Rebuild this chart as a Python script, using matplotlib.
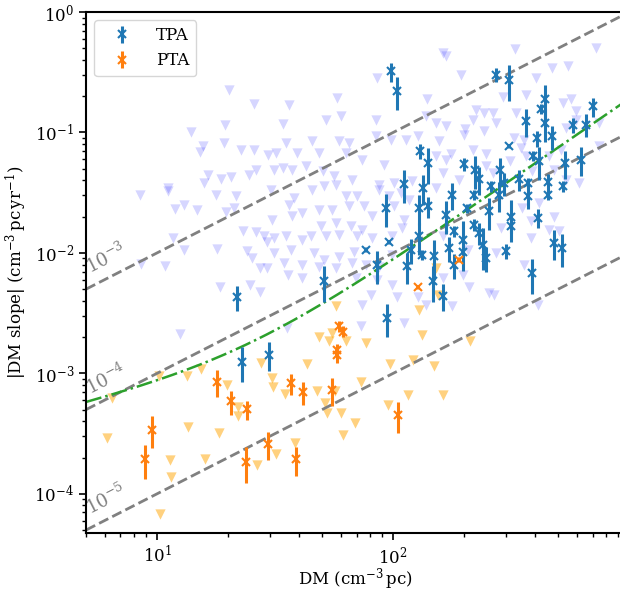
import numpy as np
import matplotlib
matplotlib.use("Agg")
import matplotlib.pyplot as plt

plt.rcParams['font.family'] = 'serif'
plt.rcParams['font.serif'] = ['DejaVu Serif']
plt.rcParams['mathtext.fontset'] = 'dejavuserif'
plt.rcParams['font.size'] = 12

# measured DM slopes (TPA)
tpa_dm = [98.3, 104, 130, 140, 111, 134, 272, 310, 441, 423, 699, 367, 575, 655, 441,
          308, 405, 470, 392, 413, 536, 624, 200, 223, 231, 284, 295, 342, 371, 451,
          522, 259, 178, 220, 281, 371, 451, 167, 206, 255, 315, 409, 181, 197, 220,
          231, 239, 247, 300, 315, 173, 181, 197, 481, 519, 389, 162, 93.1, 96.2, 76.6,
          129, 119, 133, 115, 85.8, 50.7, 149, 147, 140, 94.6, 29.8, 21.9, 23.0, 128.8]
tpa_slope = [0.321, 0.222, 0.0696, 0.0556, 0.0375, 0.0346, 0.302, 0.274, 0.188, 0.157, 0.165,
             0.124, 0.116, 0.116, 0.120, 0.0766, 0.0896, 0.0926, 0.0636, 0.0576, 0.0556, 0.0596,
             0.0547, 0.0487, 0.0408, 0.0487, 0.0378, 0.0408, 0.0378, 0.0388, 0.0359, 0.0359,
             0.0304, 0.0304, 0.0304, 0.0295, 0.0304, 0.0207, 0.0236, 0.0221, 0.0200, 0.0195,
             0.0151, 0.0128, 0.0171, 0.0146, 0.0117, 0.00907, 0.0104, 0.0166, 0.0110, 0.00792,
             0.0102, 0.0121, 0.0110, 0.00677, 0.00439, 0.0236, 0.0123, 0.0106, 0.0137, 0.0106,
             0.00965, 0.00773, 0.00792, 0.00582, 0.00937, 0.00582, 0.0243, 0.00287, 0.00143,
             0.00429, 0.00125, 0.0236]
tpa_err = [0.058, 0.068, 0.0099, 0.018, 0.0113, 0.0098, 0.041, 0.090, 0.062, 0.016, 0.030,
           0.032, 0.017, 0.025, 0.036, 0.002, 0.014, 0.021, 0.006, 0.0175, 0.0145, 0.016,
           0.007, 0.015, 0.0105, 0.013, 0.008, 0.008, 0.004, 0.0065, 0.004, 0.004, 0.0078,
           0.003, 0.0085, 0.0064, 0.003, 0.0064, 0.002, 0.0067, 0.0076, 0.0035, 0.0015,
           0.0057, 0.002, 0.003, 0.0045, 0.0021, 0.0015, 0.002, 0.0026, 0.0019, 0.0009,
           0.0034, 0.0033, 0.0022, 0.0011, 0.0071, 0.0005, 0.0005, 0.0041, 0.0025, 0.001,
           0.0022, 0.0024, 0.0019, 0.0034, 0.0019, 0.0048, 0.00086, 0.00038, 0.00099, 0.0004,
           0.0064]

# measured DM slopes (PTA)
pta_dm = [59.0, 61.4, 58.1, 57.7, 126.8, 190, 17.9, 20.5, 24.0, 9.55, 8.89, 23.7,
          37.1, 41.7, 55.3, 29.5, 38.9, 105.3]
pta_slope = [0.00245, 0.00222, 0.00157, 0.00143, 0.00524, 0.00879, 0.000852, 0.000585,
             0.000503, 0.000339, 0.000194, 0.000185, 0.000824, 0.000695, 0.000722, 0.000257,
             0.000194, 0.000448]
pta_err = [0.00026, 0.00023, 0.00017, 0.00022, 0.0002, 0.0004, 0.00021, 0.00013, 0.00009,
           0.0001, 0.000062, 0.000062, 0.00016, 0.00015, 0.00019, 0.000066, 0.000053, 0.00013]

# upper limits (TPA)
tpa_lim_dm = [20.2, 25.8, 13.9, 19.4, 15.6, 15.2, 19.2, 22.6, 25.8, 16.4, 15.8, 18.6, 20.5,
              24.5, 26.2, 11.1,
              85.8, 57.7, 36.3, 139, 161.8, 29.5,
              167.2, 193.6, 329, 723, 473, 548, 402.5, 290.5, 367, 522, 566, 224, 243, 263.6,
              331, 594, 216.8, 272, 594, 746, 201.8, 200, 243, 325.6, 359, 539,
              746, 175.6, 216.8, 247, 347.5, 365, 458, 513, 190.4, 247, 263.6, 312,
              389, 481, 539, 614,
              8.47, 11.1, 11.9, 13.0, 14.8, 17.7, 21.6, 19.5, 21.1, 23.2, 26.2, 28.4, 11.7,
              13.0, 17.9, 24.0, 25.3, 27.3, 8.58, 10.8, 18.5, 24.8, 27.3, 12.5,
              29.3, 29.3, 80.4, 74.1, 104.2, 126.8, 137.6, 73.0, 35.6, 111.3,
              383, 481, 458, 505, 286, 359, 383, 210, 255, 268, 178.3, 408.7, 161.8, 196.7,
              206.5, 272, 353, 415.6, 161.8,
              34.2, 51.9, 60.0, 84.5, 137.6, 151.7, 167.2, 45.5, 35.1, 59.0, 65.1, 84.5, 97.8,
              113.2, 126.8, 156.6, 31.8, 39.3, 48.6, 63.0, 74.1, 91.6, 151.7, 167.2, 31.3,
              34.0, 37.4, 42.7, 50.2, 56.2, 67.2, 87.2, 101, 120.7, 161.8, 151.7, 30.3, 38.1,
              45.5, 51.0, 57.2, 63.0, 70.6, 87.2, 96.2, 107.8, 116.9, 36.3, 41.3, 48.6, 55.3,
              65.1, 75.3, 81.7, 101, 111.3, 30.8, 37.4, 49.4, 57.2, 66.2, 74.1, 109.4, 31.3,
              35.1, 41.3, 44.8, 51.9, 59.0, 70.6, 81.7, 99.3, 31.3, 36.9, 46.3, 51.0, 59.0,
              68.3, 99.3, 34.5, 41.3, 48.6, 57.2, 67.2, 76.6, 87.2, 35.7, 41.3, 69.5, 85.8,
              99.3]
tpa_lim_slope = [0.226, 0.173, 0.100, 0.116, 0.0766, 0.0683, 0.0816, 0.0719, 0.0719, 0.0445,
                 0.0380, 0.0411, 0.0427, 0.0445, 0.0491, 0.0346,
                 0.283, 0.194, 0.170, 0.190, 0.458, 0.0654,
                 0.429, 0.302, 0.494, 0.504, 0.343, 0.354, 0.283, 0.197, 0.206, 0.176, 0.190,
                 0.155, 0.145, 0.145, 0.145, 0.150, 0.128, 0.120, 0.128, 0.120, 0.106,
                 0.0958, 0.102, 0.0901, 0.0872, 0.109, 0.0766, 0.0666, 0.0719, 0.0666,
                 0.0743, 0.0633, 0.0633, 0.0719, 0.0405, 0.0523, 0.0460, 0.0575,
                 0.0475, 0.0491, 0.0405, 0.0380,
                 0.0304, 0.0324, 0.0232, 0.0251, 0.0225, 0.0304, 0.0295, 0.0217, 0.0236,
                 0.0151, 0.0148, 0.0137, 0.0133, 0.0106, 0.0108, 0.0103, 0.00906, 0.00749,
                 0.00813, 0.00783, 0.00519, 0.00543, 0.00478, 0.00213,
                 0.0124, 0.00749, 0.00448, 0.00370, 0.00434, 0.00434, 0.00370, 0.00245,
                 0.00237, 0.00261,
                 0.0183, 0.0200, 0.0156, 0.0151, 0.0161, 0.00797, 0.0133, 0.00526, 0.00463,
                 0.00448, 0.00359, 0.00370, 0.00620, 0.00660, 0.0106, 0.00995, 0.0236, 0.0259,
                 0.0137,
                 0.1183, 0.1278, 0.1361, 0.1278, 0.1361, 0.1199, 0.1124, 0.0843, 0.0818,
                 0.0843, 0.0818, 0.0928, 0.0871, 0.0871, 0.0928, 0.0843, 0.0676, 0.0676,
                 0.0676, 0.0676, 0.0594, 0.054, 0.0633, 0.0594, 0.0491, 0.0507, 0.0491,
                 0.0523, 0.0475, 0.0432, 0.0405, 0.0368, 0.038, 0.0392, 0.0461, 0.0346,
                 0.0335, 0.0285, 0.0335, 0.0356, 0.0368, 0.0294, 0.0294, 0.0335, 0.0294,
                 0.0314, 0.0276, 0.0251, 0.0214, 0.0228, 0.0228, 0.0243, 0.0243, 0.0201,
                 0.0243, 0.01884, 0.01884, 0.0201, 0.01658, 0.0177, 0.01658, 0.01556, 0.01607,
                 0.01327, 0.01369, 0.01285, 0.01369, 0.01369, 0.01414, 0.01369, 0.01327,
                 0.01369, 0.00996, 0.0106, 0.00996, 0.00876, 0.00933, 0.01027, 0.00964,
                 0.00823, 0.00796, 0.00771, 0.00748, 0.00823, 0.00796, 0.00771, 0.00657,
                 0.00617, 0.00617, 0.00597, 0.00543]

# upper limits (PTA)
pta_lim_dm = [10.2, 13.4, 6.47, 19.7, 22.0, 22.0, 6.12, 13.5, 18.3, 11.35, 15.9, 11.5, 26.5,
              10.3, 15.3, 27.5, 151.7, 155, 57.1, 128.8, 48.6, 53.6, 55.3, 63.1, 76.6, 133.1,
              43.1, 97.1, 120.8, 149.2, 30.8, 31.1, 34.8, 47.8, 51.4, 52.4, 60.4, 56.6, 68.8,
              61.4, 38.3, 32.0, 95.2, 115.8, 161.8, 73.0, 211]
pta_lim_slope = [0.000953, 0.000953, 0.000622, 0.000801, 0.000525, 0.000443, 0.000289,
                 0.000360, 0.000322, 0.000191, 0.000193, 0.000139, 0.000174, 0.0000678,
                 0.00109, 0.00121, 0.00749, 0.00448, 0.00359, 0.00333, 0.00201, 0.00184,
                 0.00216, 0.00184, 0.00178, 0.00208, 0.00120, 0.00120, 0.00130, 0.00114,
                 0.000907, 0.000767, 0.000674, 0.000718, 0.000564, 0.000466, 0.000466,
                 0.000718, 0.000390, 0.000308, 0.000266, 0.000214, 0.000546, 0.000660,
                 0.000660, 0.000854, 0.00184]

# constant slope/DM reference lines
ratios = [1e-3, 1e-4, 1e-5]
ratio_labels = [r'$10^{-3}$', r'$10^{-4}$', r'$10^{-5}$']

# model: white-noise floor plus DM-dependent term, added in quadrature
model_a, model_p = 2.5e-4, 0.5
model_b, model_q = 1.7e-5, 1.35

xmin, xmax = 5, 950
ymin, ymax = 4.7e-5, 1.0

fig = plt.figure(figsize=(6.2, 5.91), dpi=100)
ax = fig.add_axes([86 / 620, 57.7 / 591, 538 / 620, 521.3 / 591])

ax.scatter(tpa_lim_dm, tpa_lim_slope, marker='v', s=55, color='b', alpha=0.16,
           linewidths=0, zorder=1)
ax.scatter(pta_lim_dm, pta_lim_slope, marker='v', s=55, color='orange', alpha=0.5,
           linewidths=0, zorder=1)

dm_grid = np.logspace(np.log10(xmin), np.log10(xmax), 200)
for r, lab in zip(ratios, ratio_labels):
    ax.plot(dm_grid, r * dm_grid, ls='--', color='grey', lw=2, zorder=2)
    ax.text(6.1, 1.47 * r * 6.1, lab, color='grey', fontsize=13, rotation=27,
            ha='center', va='center', zorder=2)

model = np.sqrt((model_a * dm_grid ** model_p) ** 2 + (model_b * dm_grid ** model_q) ** 2)
ax.plot(dm_grid, model, ls='-.', color='C2', lw=1.8, zorder=2)

ax.errorbar(tpa_dm, tpa_slope, yerr=tpa_err, fmt='x', color='C0', ms=6, mew=1.5,
            elinewidth=2.2, capsize=0, label='TPA', zorder=4)
ax.errorbar(pta_dm, pta_slope, yerr=pta_err, fmt='x', color='C1', ms=6, mew=1.5,
            elinewidth=2.2, capsize=0, label='PTA', zorder=4)

ax.set_xscale('log')
ax.set_yscale('log')
ax.set_xlim(xmin, xmax)
ax.set_ylim(ymin, ymax)
ax.set_xlabel(r'DM (cm$^{-3}\,$pc)', labelpad=-1)
ax.set_ylabel(r'$|$DM slope$|$ (cm$^{-3}\,$pc$\,$yr$^{-1}$)')
for s in ax.spines.values():
    s.set_linewidth(1.5)
ax.tick_params(which='major', width=1.2, length=5)
ax.tick_params(which='minor', width=1.0, length=3)
ax.legend(loc='upper left', fontsize=12, handlelength=2.5, handletextpad=0.8)

fig.savefig('out.png', dpi=100)
